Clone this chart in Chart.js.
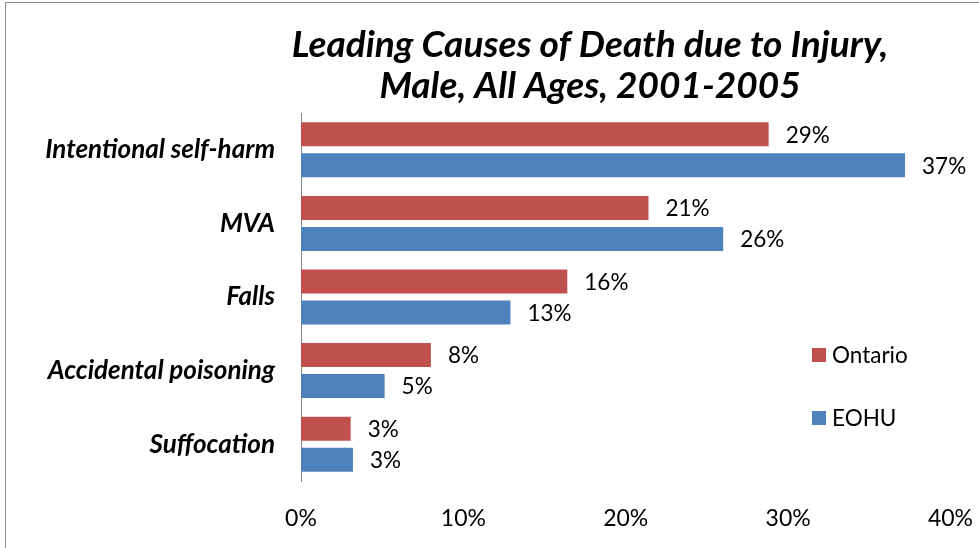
<!DOCTYPE html>
<html>
<head>
<meta charset="utf-8">
<script src="https://cdn.jsdelivr.net/npm/chart.js@4.4.1/dist/chart.umd.min.js"></script>
<style>
  html, body { margin: 0; padding: 0; background: #fff; }
  #wrap { width: 979px; height: 548px; position: relative; }
</style>
</head>
<body>
<div id="wrap"><canvas id="injuryChart"></canvas></div>
<script>
// Data
const causes = ['Intentional self-harm', 'MVA', 'Falls', 'Accidental poisoning', 'Suffocation'];
const ontario = [28.8, 21.4, 16.4, 8.0, 3.06];
const eohu = [37.2, 26.0, 12.9, 5.15, 3.2];
const seriesNames = ['Ontario', 'EOHU'];
const xTicks = [0, 10, 20, 30, 40];
const titleLines = ['Leading Causes of Death due to Injury,', 'Male, All Ages, 2001-2005'];

const RED = '#C0504D';
const BLUE = '#4F81BD';
const FONT = 'Lato, "Open Sans", sans-serif';

// Titel + rand
const frame = {
  id: 'frame',
  beforeDraw(chart) {
    const { ctx } = chart;
    ctx.save();
    ctx.strokeStyle = '#8c8c8c';
    ctx.lineWidth = 1;
    ctx.strokeRect(5.5, 2.5, 990, 560);
    ctx.fillStyle = '#000';
    ctx.textAlign = 'center';
    ctx.textBaseline = 'middle';
    ctx.font = 'italic bold 37px ' + FONT;
    ctx.fillText(titleLines[0], 590, 45);
    ctx.fillText(titleLines[1], 590, 86);
    ctx.restore();
  }
};

// Waarde-labels naast de balken + legenda
const labels = {
  id: 'labels',
  afterDatasetsDraw(chart) {
    const { ctx } = chart;
    ctx.save();
    ctx.fillStyle = '#000';
    ctx.textAlign = 'left';
    ctx.textBaseline = 'middle';
    ctx.font = '22.5px ' + FONT;
    chart.data.datasets.forEach((ds, i) => {
      chart.getDatasetMeta(i).data.forEach((bar, j) => {
        ctx.fillText(Math.round(ds.data[j]) + '%', bar.x + 17, bar.y + 1);
      });
    });

    // legenda
    const colors = [RED, BLUE];
    const ys = [355, 418];
    seriesNames.forEach((name, i) => {
      ctx.fillStyle = colors[i];
      ctx.fillRect(812, ys[i] - 7, 14, 14);
      ctx.fillStyle = '#000';
      ctx.font = '22.5px ' + FONT;
      ctx.fillText(name, 832, ys[i] + 1);
    });
    ctx.restore();
  }
};

new Chart(document.getElementById('injuryChart'), {
  type: 'bar',
  data: {
    labels: causes,
    datasets: [
      { label: seriesNames[0], data: ontario, backgroundColor: RED, borderWidth: 0 },
      { label: seriesNames[1], data: eohu, backgroundColor: BLUE, borderWidth: 0 }
    ]
  },
  options: {
    indexAxis: 'y',
    responsive: true,
    maintainAspectRatio: false,
    animation: false,
    events: [],
    categoryPercentage: 0.842,
    barPercentage: 0.774,
    layout: { padding: { top: 113, right: 28.5, left: 0, bottom: 0 } },
    plugins: {
      legend: { display: false },
      title: { display: false },
      tooltip: { enabled: false }
    },
    scales: {
      x: {
        min: 0,
        max: 40,
        afterBuildTicks: s => { s.ticks = xTicks.map(v => ({ value: v })); },
        afterFit: s => { s.height = 67; s.paddingLeft = 0; s.paddingRight = 0; },
        grid: { display: false, drawTicks: false },
        border: { display: false },
        ticks: {
          padding: 24,
          color: '#000',
          font: { family: FONT, size: 23 },
          maxRotation: 0,
          callback: v => v + '%'
        }
      },
      y: {
        afterFit: s => { s.width = 301; s.paddingTop = 0; s.paddingBottom = 0; },
        grid: { display: false, drawTicks: false },
        border: { display: true, color: '#868686', width: 1 },
        ticks: {
          padding: 26,
          color: '#000',
          font: { family: FONT, size: 26, style: 'italic', weight: 'bold' }
        }
      }
    }
  },
  plugins: [frame, labels]
});
</script>
</body>
</html>
